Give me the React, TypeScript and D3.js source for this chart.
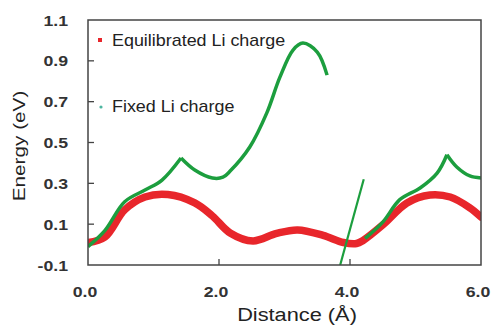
import * as d3 from 'd3';

// distance (Å) / energy (eV)
const redX = [0, 0.26, 0.56, 0.87, 1.22, 1.63, 1.9, 2.17, 2.52, 2.88, 3.2, 3.59, 3.9, 4.1, 4.2, 4.5, 4.87, 5.22, 5.53, 5.83, 6.0];
const redY = [0.01, 0.037, 0.17, 0.233, 0.245, 0.204, 0.14, 0.057, 0.018, 0.055, 0.072, 0.045, 0.01, 0.005, 0.02, 0.096, 0.204, 0.243, 0.233, 0.18, 0.135];

// fixed-charge curve, broken into pieces at its kinks and gaps
const greenPieces: [number, number][][] = [
  [[0, -0.01], [0.26, 0.07], [0.56, 0.21], [0.87, 0.267], [1.13, 0.316], [1.42, 0.424]],
  [[1.42, 0.424], [1.63, 0.365], [1.9, 0.326], [2.06, 0.33], [2.17, 0.36], [2.47, 0.478], [2.73, 0.645], [2.93, 0.82], [3.13, 0.953], [3.28, 0.987], [3.5, 0.943], [3.65, 0.83]],
  [[4.23, 0.03], [4.5, 0.11], [4.76, 0.22], [5.07, 0.277], [5.33, 0.35], [5.48, 0.44]],
  [[5.48, 0.44], [5.63, 0.38], [5.83, 0.336], [6.0, 0.326]],
];
const greenSpike: [number, number][] = [[3.85, -0.1], [4.21, 0.32]];

const xTicks = [0, 2, 4, 6];
const yTicks = [-0.1, 0.1, 0.3, 0.5, 0.7, 0.9, 1.1];

const width = 492;
const height = 327;
const left = 88;
const right = 481;
const top = 20;
const bottom = 265;

const RED = '#e8262b';
const GREEN = '#1c9e3e';
const font = 'Liberation Sans, Arial, sans-serif';

const fmt = (v: number) => d3.format('.1f')(v).replace('−', '-');

export default function App() {
  const x = d3.scaleLinear([0, 6], [left, right]);
  const y = d3.scaleLinear([-0.1, 1.1], [bottom, top]);

  const line = d3
    .line<[number, number]>()
    .x((d) => x(d[0]))
    .y((d) => y(d[1]))
    .curve(d3.curveCatmullRom.alpha(0.5));

  const redPts = redX.map((v, i) => [v, redY[i]] as [number, number]);

  return (
    <svg width={width} height={height} style={{ position: 'absolute', left: 0, top: 0, background: '#fff' }}>
      <defs>
        <clipPath id="plot">
          <rect x={left} y={top} width={right - left} height={bottom - top} />
        </clipPath>
      </defs>

      <g clipPath="url(#plot)">
        <path d={line(redPts) ?? ''} fill="none" stroke={RED} strokeWidth={7.5} strokeLinecap="round" />
        {greenPieces.map((p, i) => (
          <path key={i} d={line(p) ?? ''} fill="none" stroke={GREEN} strokeWidth={3.5} strokeLinejoin="round" />
        ))}
        <path d={d3.line()(greenSpike.map((d) => [x(d[0]), y(d[1])])) ?? ''} fill="none" stroke={GREEN} strokeWidth={2.2} />
      </g>

      {/* frame */}
      <rect x={left} y={top} width={right - left} height={bottom - top} fill="none" stroke="#444" strokeWidth={1.5} />

      {/* ticks */}
      {yTicks.slice(1, -1).map((t) => (
        <line key={t} x1={left} x2={left + 6} y1={y(t)} y2={y(t)} stroke="#444" strokeWidth={1.3} />
      ))}
      {xTicks.slice(1, -1).map((t) => (
        <line key={t} x1={x(t)} x2={x(t)} y1={bottom} y2={bottom - 6} stroke="#444" strokeWidth={1.3} />
      ))}

      {/* tick labels */}
      <g fontFamily={font} fontWeight="bold" fontSize={15} fill="#333">
        {yTicks.map((t) => (
          <text key={t} transform={`translate(68,${y(t) + 5.5}) scale(1.18,1)`} textAnchor="end">
            {fmt(t)}
          </text>
        ))}
        {xTicks.map((t) => (
          <text key={t} transform={`translate(${x(t) - 3},297) scale(1.18,1)`} textAnchor="middle">
            {fmt(t)}
          </text>
        ))}
      </g>

      {/* axis titles */}
      <g fontFamily={font} fontSize={18} fill="#222">
        <text transform="translate(297,321) scale(1.21,1)" textAnchor="middle">
          Distance (Å)
        </text>
        <text transform="translate(25,146) rotate(-90) scale(1.22,1)" textAnchor="middle" fontSize={17}>
          Energy (eV)
        </text>
      </g>

      {/* legend */}
      <rect x={98} y={38} width={4} height={4} fill={RED} />
      <circle cx={101} cy={107} r={1.6} fill="#4db6a0" />
      <g fontFamily={font} fontSize={16} fill="#222">
        <text transform="translate(112,46) scale(1.12,1)">Equilibrated Li charge</text>
        <text transform="translate(112,112) scale(1.12,1)">Fixed Li charge</text>
      </g>
    </svg>
  );
}
